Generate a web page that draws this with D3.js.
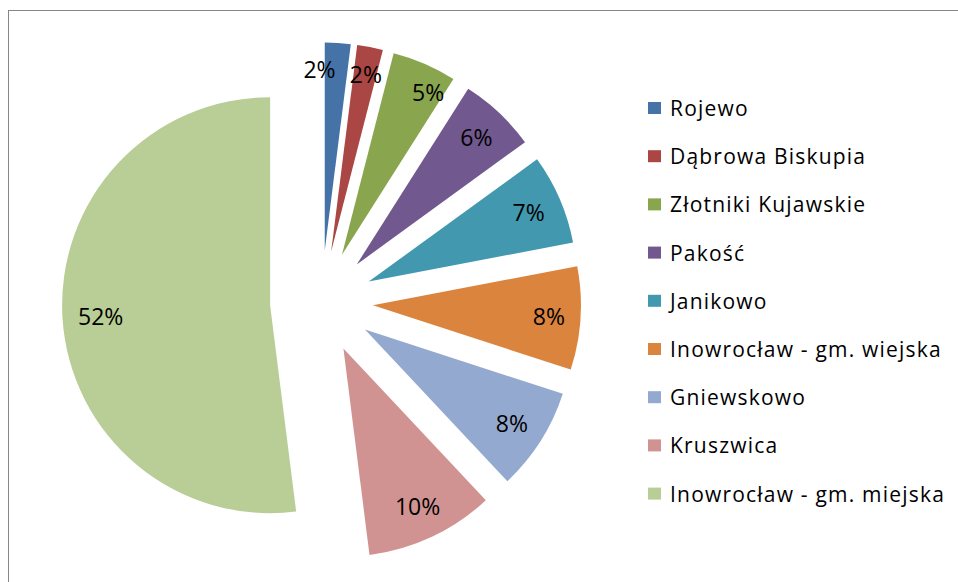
<!DOCTYPE html>
<html>
<head>
<meta charset="utf-8">
<script src="https://cdn.jsdelivr.net/npm/d3@7"></script>
<style>
  body { margin: 0; background: #fff; }
  svg { display: block; font-family: "Open Sans", sans-serif; }
</style>
</head>
<body>
<svg id="chart" width="958" height="582"></svg>
<script>
// data
const categories = ['Rojewo', 'Dąbrowa Biskupia', 'Złotniki Kujawskie', 'Pakość', 'Janikowo',
    'Inowrocław - gm. wiejska', 'Gniewskowo', 'Kruszwica', 'Inowrocław - gm. miejska'];
const shares = [2, 2, 5, 6, 7, 8, 8, 10, 52];
const colors = ['#4572A7', '#AA4643', '#89A54E', '#71588F', '#4198AF', '#DB843D', '#93A9CF', '#D19392', '#B9CD96'];

const CX = 321.5, CY = 302;
const RADIUS = 208;
const EXPLODE = 51.5;
const LABEL_PAD = 15;      // gap between label box and the arc (inside end)
const LABEL_H = 20;
const LABEL_GAP = 30;      // min horizontal gap between colliding labels

const svg = d3.select('#chart');

// outer frame (only top/left edges visible)
svg.append('rect')
    .attr('x', 8.5).attr('y', 10.5)
    .attr('width', 1000).attr('height', 1000)
    .attr('fill', 'none')
    .attr('stroke', '#868686')
    .attr('stroke-width', 1);

const pie = d3.pie().sort(null).value(d => d)(shares);
const arc = d3.arc().innerRadius(0).outerRadius(RADIUS);
const midAngle = d => (d.startAngle + d.endAngle) / 2;

const root = svg.append('g').attr('transform', `translate(${CX},${CY})`);

const slices = root.selectAll('g.slice')
    .data(pie)
    .enter().append('g')
    .attr('class', 'slice')
    .attr('transform', d => {
        const a = midAngle(d);
        return `translate(${Math.sin(a) * EXPLODE},${-Math.cos(a) * EXPLODE})`;
    });

slices.append('path')
    .attr('d', arc)
    .attr('fill', (d, i) => colors[i]);

const labels = root.selectAll('text.label')
    .data(pie)
    .enter().append('text')
    .attr('class', 'label')
    .attr('text-anchor', 'middle')
    .attr('dominant-baseline', 'central')
    .style('font-size', '23px')
    .style('fill', '#000')
    .text(d => d.data + '%');

// place each label inside the end of its slice
const pos = [];
labels.each(function (d) {
    const w = this.getComputedTextLength();
    const a = midAngle(d);
    const s = Math.sin(a), c = Math.cos(a);
    const r = RADIUS - LABEL_PAD - (Math.abs(s) * w / 2 + Math.abs(c) * LABEL_H / 2);
    pos.push({ x: s * (EXPLODE + r), y: -c * (EXPLODE + r), w: w });
});

// push apart neighbouring labels that collide
for (let i = 0; i < pos.length - 1; i++) {
    const p = pos[i], q = pos[i + 1];
    const need = (p.w + q.w) / 2 + LABEL_GAP;
    const dx = q.x - p.x;
    if (Math.abs(q.y - p.y) < LABEL_H && Math.abs(dx) < need) {
        const shift = (need - Math.abs(dx)) / 2 * (dx >= 0 ? 1 : -1);
        p.x -= shift;
        q.x += shift;
    }
}

labels.attr('x', (d, i) => pos[i].x).attr('y', (d, i) => pos[i].y);

// legend
const legend = svg.append('g').attr('transform', 'translate(648,108)')
    .selectAll('g')
    .data(categories)
    .enter().append('g')
    .attr('transform', (d, i) => `translate(0,${i * 48.2})`);

legend.append('rect')
    .attr('x', 0).attr('y', -6)
    .attr('width', 13).attr('height', 12)
    .attr('fill', (d, i) => colors[i]);

legend.append('text')
    .attr('x', 22)
    .attr('y', 0)
    .attr('dominant-baseline', 'central')
    .style('font-size', '21px')
    .style('letter-spacing', '1.2px')
    .style('fill', '#000')
    .text(d => d);
</script>
</body>
</html>
